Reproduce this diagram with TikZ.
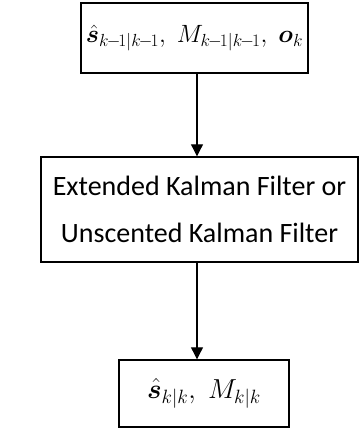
\RequirePackage{fix-cm}
\documentclass[tikz,border=0pt]{standalone}
\usepackage{amsmath}
\usepackage{bm}
\usepackage{fontspec}
\setmainfont{Carlito}
\usetikzlibrary{arrows.meta}
\newcommand{\mn}{\mathbin{\mkern-2mu-\mkern-2mu}}
\begin{document}
\begin{tikzpicture}[x=1pt,y=-1pt,
  boxstyle/.style={draw=black,line width=1.4pt,fill=white,inner sep=0pt,align=center},
  arr/.style={line width=1.1pt,-{Triangle[width=12pt,length=12pt]}}]
\useasboundingbox (0,0) rectangle (360,428);
\node[boxstyle,font={\fontsize{25}{30}\selectfont},minimum width=227pt,minimum height=70pt] (top) at (194.5,38)
  {$\hat{\bm{s}}_{k\mn1|k\mn1},\; M_{k\mn1|k\mn1},\; \bm{o}_k$};
\node[boxstyle,font={\fontsize{28}{47}\selectfont},minimum width=317pt,minimum height=105pt] (mid) at (199.5,209.5)
  {Extended Kalman Filter or\\Unscented Kalman Filter};
\node[boxstyle,font={\fontsize{27.5}{32}\selectfont},minimum width=170pt,minimum height=67pt] (bot) at (204,393.5)
  {$\hat{\bm{s}}_{k|k},\; M_{k|k}$};
\coordinate (ax) at (197,0);
\draw[arr] (top.south -| ax) -- (mid.north -| ax);
\draw[arr] (mid.south -| ax) -- (bot.north -| ax);
\end{tikzpicture}
\end{document}
